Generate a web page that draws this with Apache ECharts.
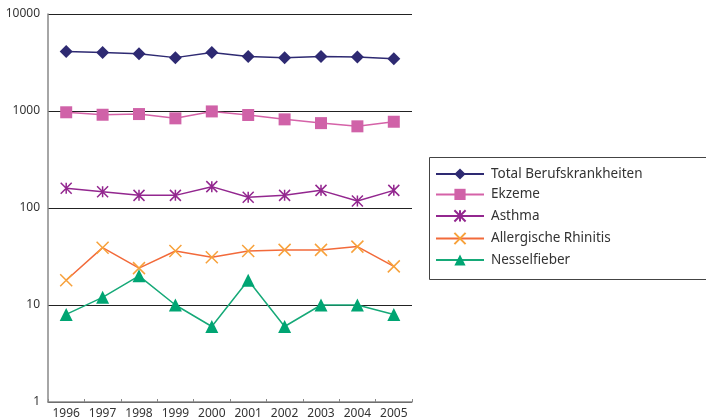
<!DOCTYPE html>
<html>
<head>
<meta charset="utf-8">
<script src="https://cdn.jsdelivr.net/npm/echarts@6/dist/echarts.min.js"></script>
<style>
  html, body { margin: 0; padding: 0; background: #fff; }
  #chart { width: 706px; height: 419px; }
</style>
</head>
<body>
<div id="chart"></div>
<script>
// Berufskrankheiten 1996–2005, logarithmic scale
const years = ['1996', '1997', '1998', '1999', '2000', '2001', '2002', '2003', '2004', '2005'];
const totalBK = [4100, 4000, 3900, 3550, 4000, 3650, 3550, 3650, 3600, 3450];
const ekzeme = [970, 915, 930, 840, 990, 910, 820, 750, 695, 775];
const asthma = [160, 147, 135, 135, 166, 129, 135, 152, 118, 152];
const rhinitis = [18, 39, 24, 36, 31, 36, 37, 37, 40, 25];
const nesselfieber = [8, 12, 20, 10, 6, 18, 6, 10, 10, 8];

const FONT = '"Noto Sans", "DejaVu Sans", sans-serif';
const starPath = 'path://M0,0L10,10M10,0L0,10M5,0L5,10';
const crossPath = 'path://M0,0L10,10M10,0L0,10';

const chart = echarts.init(document.getElementById('chart'), null, { renderer: 'canvas' });

function line(name, data, lineColor, symbol, size, markerStyle) {
  return {
    name, type: 'line', data,
    symbol, symbolSize: size, symbolKeepAspect: true,
    lineStyle: { color: lineColor, width: 1.5 },
    itemStyle: markerStyle,
    emphasis: { disabled: true },
    animation: false
  };
}

chart.setOption({
  backgroundColor: '#fff',
  textStyle: { fontFamily: FONT },
  grid: { left: 48, right: 294, top: 14, bottom: 17, containLabel: false, outerBoundsMode: 'none' },
  xAxis: {
    type: 'category', data: years, boundaryGap: true,
    axisLine: { lineStyle: { color: '#888', width: 1.5 } },
    axisTick: { show: true, alignWithLabel: false, inside: true, length: 3, lineStyle: { color: '#888' } },
    axisLabel: { color: '#333', fontSize: 12, margin: 6, fontFamily: FONT }
  },
  yAxis: {
    type: 'log', logBase: 10, min: 1, max: 10000,
    axisLine: { show: true, lineStyle: { color: '#888', width: 1.5 } },
    axisTick: { show: false },
    splitLine: { show: true, lineStyle: { color: '#222', width: 1 } },
    minorSplitLine: { show: false },
    axisLabel: { color: '#333', fontSize: 12, margin: 8, fontFamily: FONT, formatter: v => String(Math.round(v)) }
  },
  legend: {
    orient: 'vertical', left: 435, top: 167, padding: 0,
    itemWidth: 48, itemHeight: 14, itemGap: 6.4,
    textStyle: { color: '#333', fontSize: 13.5, lineHeight: 14, fontFamily: FONT, padding: [0, 0, 0, 2] },
    data: ['Total Berufskrankheiten', 'Ekzeme', 'Asthma', 'Allergische Rhinitis', 'Nesselfieber']
  },
  graphic: [{
    type: 'rect', left: 427, top: 155,
    shape: { width: 278, height: 122 },
    style: { fill: 'none', stroke: '#444', lineWidth: 1 },
    silent: true
  }],
  series: [
    line('Total Berufskrankheiten', totalBK, '#2e2a72', 'diamond', 13, { color: '#2e2a72' }),
    line('Ekzeme', ekzeme, '#d562a8', 'rect', 12, { color: '#d062a8' }),
    line('Asthma', asthma, '#93278f', starPath, 11, { color: 'none', borderColor: '#93278f', borderWidth: 1.5 }),
    line('Allergische Rhinitis', rhinitis, '#f26a3a', crossPath, 12, { color: 'none', borderColor: '#f7a13a', borderWidth: 1.5 }),
    line('Nesselfieber', nesselfieber, '#16a978', 'triangle', 13, { color: '#00a573' })
  ]
});
</script>
</body>
</html>
